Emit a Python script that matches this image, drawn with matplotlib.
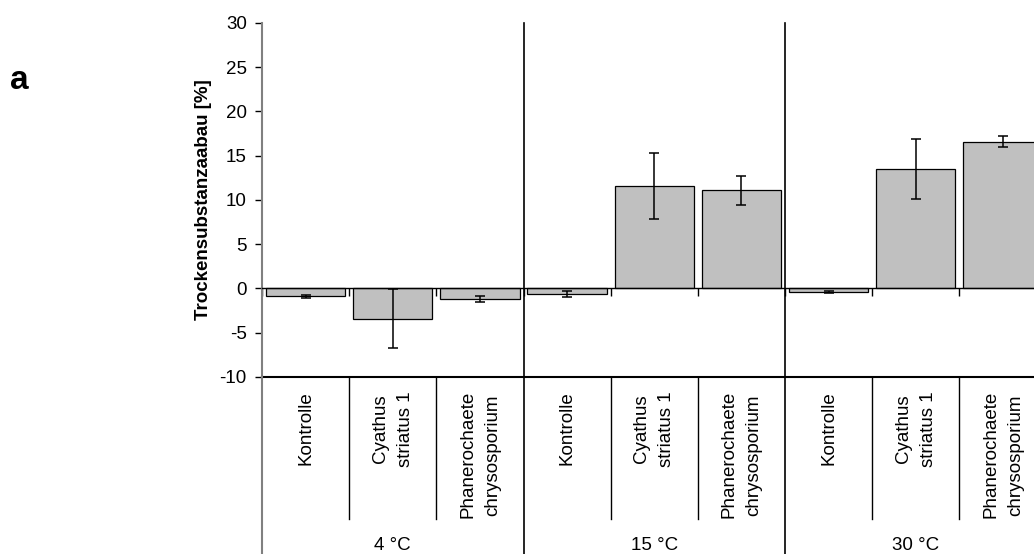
import numpy as np
import matplotlib
matplotlib.use('Agg')
import matplotlib.pyplot as plt
import matplotlib.transforms as mtransforms

plt.rcParams['font.family'] = ['Liberation Sans', 'DejaVu Sans']

# %% DATA
groups = ['4 °C', '15 °C', '30 °C']
treatments = ['Kontrolle', 'Cyathus\nstriatus 1', 'Phanerochaete\nchrysosporium']
values = [-0.9, -3.4, -1.2,
          -0.6, 11.6, 11.1,
          -0.4, 13.5, 16.6]
errors = [0.15, 3.3, 0.35,
          0.35, 3.7, 1.65,
          0.15, 3.4, 0.65]
yticks = [-10, -5, 0, 5, 10, 15, 20, 25, 30]
ylabel = 'Trockensubstanzaabau [%]'
panel = 'a'

fs = 13.5

# %% PLOT
fig = plt.figure(figsize=(10.34, 5.54), dpi=100)
ax = fig.add_axes([0.2534, 0.3195, 0.7587, 0.639])

n = len(values)
x = np.arange(n) + 0.5
ax.bar(x, values, width=0.91, color='#c0c0c0', edgecolor='black', linewidth=0.9, zorder=2)
ax.errorbar(x, values, yerr=errors, fmt='none', ecolor='black', elinewidth=1.1,
            capsize=3.6, capthick=1.1, zorder=3)

ax.set_xlim(0, n)
ax.set_ylim(yticks[0], yticks[-1])
ax.set_yticks(yticks)
ax.set_yticklabels([str(t) for t in yticks], fontsize=fs)
ax.tick_params(axis='y', direction='out', length=5, width=1, pad=6)

# zero line acts as the category axis with small ticks
ax.spines['bottom'].set_position(('data', 0))
ax.spines['bottom'].set_linewidth(1)
ax.set_xticks(np.arange(n + 1))
ax.set_xticklabels([])
ax.tick_params(axis='x', direction='out', length=6, width=1)
ax.spines['top'].set_visible(False)
ax.spines['right'].set_visible(False)
ax.spines['left'].set_color('#808080')
ax.spines['left'].set_linewidth(1.5)
ax.axhline(yticks[0], color='black', linewidth=1.5, clip_on=False, zorder=4)

ax.set_ylabel(ylabel, fontsize=fs, fontweight='bold')
ax.yaxis.set_label_coords(-0.0638, 0.5)

# category label area below the plot
trans = mtransforms.blended_transform_factory(ax.transData, ax.transAxes)
k = len(treatments)
for i in range(n + 1):
    if i == 0:
        ax.plot([i, i], [0.0, -0.5], color='#808080', linewidth=1.5,
                transform=trans, clip_on=False, zorder=5)
    elif i % k == 0:
        ax.plot([i, i], [1.0, -0.5], color='black', linewidth=1.2,
                transform=trans, clip_on=False, zorder=5)
    else:
        ax.plot([i, i], [-0.003, -0.401], color='black', linewidth=1,
                transform=trans, clip_on=False)

for i in range(n):
    ax.text(i + 0.5, -0.04, treatments[i % k], rotation=90, ha='center', va='top',
            multialignment='center', fontsize=fs, transform=trans, clip_on=False,
            linespacing=1.6)

for j, g in enumerate(groups):
    ax.text(j * k + k / 2, -0.475, g, ha='center', va='center', fontsize=fs,
            transform=trans, clip_on=False)

fig.text(0.0097, 0.855, panel, fontsize=24, fontweight='bold', ha='left', va='center')

fig.savefig('out.png', dpi=100)
